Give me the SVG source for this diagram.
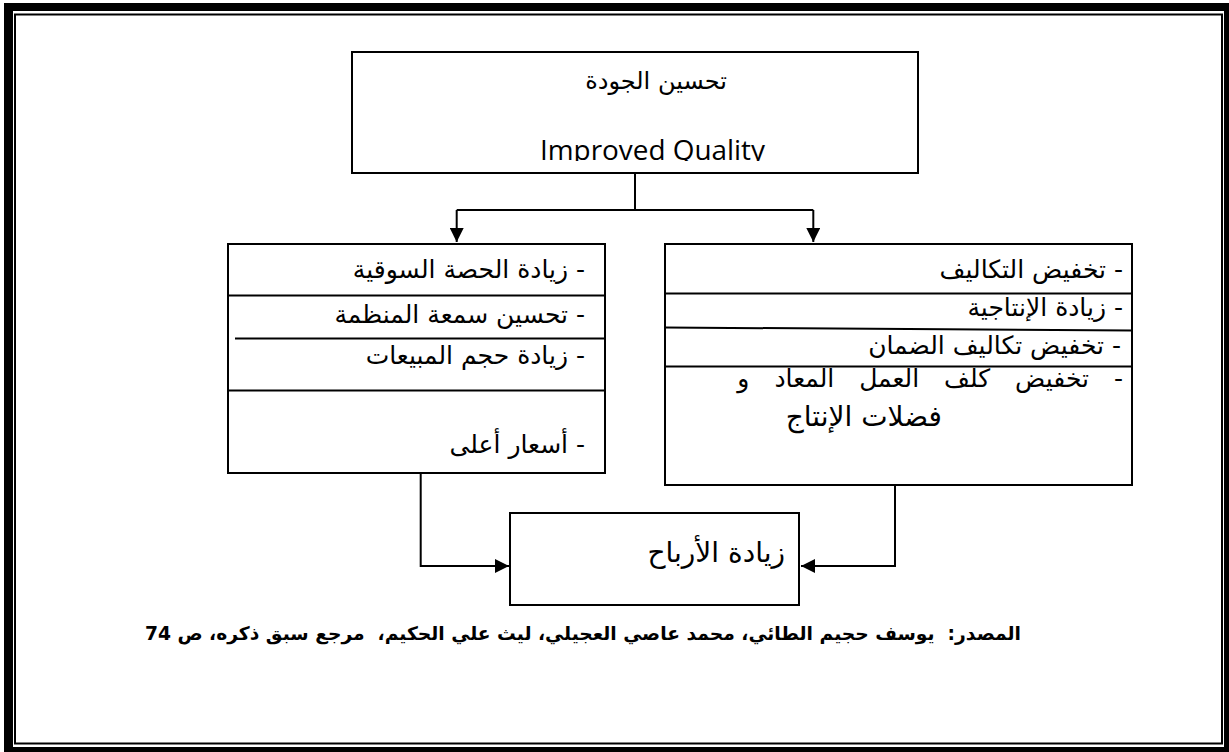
<svg xmlns="http://www.w3.org/2000/svg" width="1229" height="752" viewBox="0 0 1229 752">
<style>
.box{fill:#fff;stroke:#000;stroke-width:2}
.ln{stroke:#000;stroke-width:2;fill:none}
.ar{font-family:"DejaVu Sans",sans-serif;font-size:25px;fill:#000;direction:rtl;text-anchor:start}
.en{font-family:"Open Sans","DejaVu Sans",sans-serif;font-size:27px;fill:#000}
.src{font-family:"DejaVu Sans",sans-serif;font-size:18.7px;font-weight:bold;fill:#000;direction:rtl;text-anchor:start;white-space:pre}
</style>
<defs>
<marker id="ah2" viewBox="0 0 10 10" refX="10" refY="5" markerWidth="14" markerHeight="14" markerUnits="userSpaceOnUse" orient="auto">
<path d="M0,0 L10,5 L0,10 z" fill="#000"/>
</marker>
<clipPath id="topclip"><rect x="352" y="52" width="566" height="109"/></clipPath>
</defs>
<g id="frame">
<path d="M4,3 H1229 V752 H4 Z M13,11 V747 H1224 V11 Z" fill="#000" fill-rule="evenodd"/>
<rect x="15" y="14.5" width="1207" height="729" fill="none" stroke="#000" stroke-width="2"/>
</g>
<g id="connectors">
<path class="ln" d="M635,166 V211"/>
<path class="ln" d="M456.7,210 H813.3"/>
<path class="ln" d="M456.7,210 V242" marker-end="url(#ah2)"/>
<path class="ln" d="M813.3,210 V242" marker-end="url(#ah2)"/>
<path class="ln" d="M420.7,473 V566 H509" marker-end="url(#ah2)"/>
<path class="ln" d="M895,485 V566 H801" marker-end="url(#ah2)"/>
</g>
<g id="node-quality">
<rect class="box" x="352" y="52" width="566" height="121"/>
<text class="ar" x="727" y="89" style="font-size:24px">تحسين الجودة</text>
<g clip-path="url(#topclip)"><text class="en" x="540" y="160" textLength="225" lengthAdjust="spacingAndGlyphs">Improved Quality</text></g>
</g>
<g id="node-left">
<rect class="box" x="228" y="244" width="377" height="229"/>
<path class="ln" d="M228,295.5 H605 M235,338.5 H605 M228,390.5 H605"/>
<text class="ar" x="585" y="278">- زيادة الحصة السوقية</text>
<text class="ar" x="585" y="323">- تحسين سمعة المنظمة</text>
<text class="ar" x="585" y="364">- زيادة حجم المبيعات</text>
<text class="ar" x="585" y="453">- أسعار أعلى</text>
</g>
<g id="node-right">
<rect class="box" x="665" y="244" width="467" height="241"/>
<path class="ln" d="M665,293.5 H1132 M665,327.5 L1132,330.5 M665,366.5 H1132"/>
<text class="ar" x="1123" y="278">- تخفيض التكاليف</text>
<text class="ar" x="1123" y="316">- زيادة الإنتاجية</text>
<text class="ar" x="1121" y="354">- تخفيض تكاليف الضمان</text>
<text class="ar" x="1123" y="387" word-spacing="17">- تخفيض كلف العمل المعاد و</text>
<text class="ar" x="942" y="426" style="font-size:28px">فضلات الإنتاج</text>
</g>
<g id="node-profit">
<rect class="box" x="510" y="513" width="289" height="92"/>
<text class="ar" x="785" y="562" style="font-size:28px">زيادة الأرباح</text>
</g>
<g id="source">
<text class="src" x="1021" y="640" xml:space="preserve">المصدر:  يوسف حجيم الطائي، محمد عاصي العجيلي، ليث علي الحكيم،  مرجع سبق ذكره، ص 74</text>
</g>
</svg>
